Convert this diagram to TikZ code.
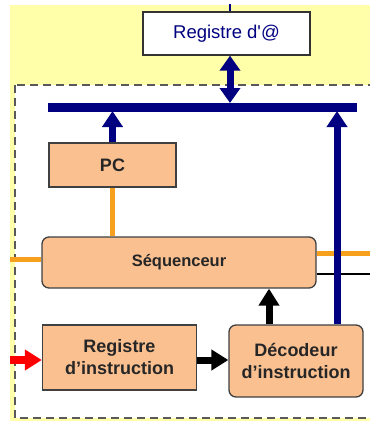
\documentclass[tikz,border=0pt]{standalone}
\usepackage{fontspec}
\setmainfont{Liberation Sans}
\usetikzlibrary{arrows.meta}
\definecolor{peach}{RGB}{250,192,144}
\definecolor{navy}{RGB}{0,0,128}
\definecolor{orangeline}{RGB}{247,160,30}
\definecolor{paleyellow}{RGB}{255,255,170}
\begin{document}
\begin{tikzpicture}[x=1pt, y=-1pt]
  % Define box and connector styles
  \tikzstyle{mybloc} = [draw=black!75, fill=peach, line width=1.3pt, rectangle,
  inner sep=0pt, align=center, text=black!85,
  font=\fontsize{18}{22}\selectfont\bfseries]
  \tikzstyle{myblocrond} = [mybloc, rounded corners=7pt]
  \tikzstyle{myregistre} = [draw=black!80, fill=white, line width=1.3pt, rectangle,
  inner sep=0pt, text=navy, font=\fontsize{18.5}{22}\selectfont]
  \tikzstyle{busarrow} = [draw=navy, line width=7pt,
  -{Triangle[width=20pt,length=16pt]}]
  \tikzstyle{blackarrow} = [draw=black, line width=7pt,
  -{Triangle[width=20pt,length=17pt]}]
  \tikzstyle{redarrow} = [draw=red, line width=8pt,
  -{Triangle[width=20pt,length=17pt]}]
  \tikzstyle{fil} = [draw=orangeline, line width=5pt]

  \useasboundingbox (0,0) rectangle (370,421);
  \fill[paleyellow] (10,5) rectangle (370,421);
  \draw[fill=white, draw=black!65, line width=1.5pt,
  dash pattern=on 8pt off 5pt] (15,85) rectangle (376,418);

  \node[myregistre, minimum width=167pt, minimum height=43pt] (regad)
  at (226.5,33.5) {Registre d\textquotesingle @};
  \node[mybloc, minimum width=127pt, minimum height=44pt] (pc)
  at (112.5,165) {PC};
  \node[myblocrond, minimum width=274pt, minimum height=51pt,
  font=\fontsize{16.5}{20}\selectfont\bfseries] (seq)
  at (179,262.5) {Séquenceur};
  \node[mybloc, minimum width=154pt, minimum height=65pt] (ri)
  at (119.5,357.5) {Registre\\d’instruction};
  \node[myblocrond, minimum width=134pt, minimum height=72pt] (dec)
  at (296,361) {Décodeur\\d’instruction};

  % bus
  \coordinate (busL) at (48,107);
  \coordinate (busR) at (357,107);
  \coordinate (bushaut) at (0,103);
  \coordinate (busbas) at (0,111);
  \coordinate (droite) at (337,0);
  \coordinate (decx) at (269,0);
  \coordinate (lien) at (0,360);
  \coordinate (entree) at (10,360);
  \coordinate (gauche) at (10,259);
  \coordinate (sortieA) at (370,253);
  \coordinate (sortieB) at (370,274);

  % liaisons du sequenceur
  \draw[fil] (gauche) -- (gauche -| seq.west);
  \draw[fil] (sortieA -| seq.east) -- (sortieA);
  \draw[black, line width=1.5pt] (sortieB -| seq.east) -- (sortieB);
  \draw[fil] (pc.south) -- (pc.south |- seq.north);

  \draw[navy, line width=9pt] (busL) -- (busR);
  \draw[navy, line width=1.5pt] ([xshift=3.5pt]regad.north) -- ++(0,-7);
  \draw[busarrow, {Triangle[width=20pt,length=15pt]}-{Triangle[width=20pt,length=15pt]}]
  ([xshift=3.5pt]regad.south) -- ([xshift=3.5pt]regad.south |- bushaut);
  \draw[busarrow] (pc.north) -- (pc.north |- busbas);
  \draw[busarrow] (droite |- dec.north) -- (droite |- busbas);

  \draw[blackarrow] (decx |- dec.north) -- (decx |- seq.south);
  \draw[blackarrow] (lien -| ri.east) -- (lien -| dec.west);
  \draw[redarrow] (entree) -- (entree -| ri.west);
\end{tikzpicture}
\end{document}
